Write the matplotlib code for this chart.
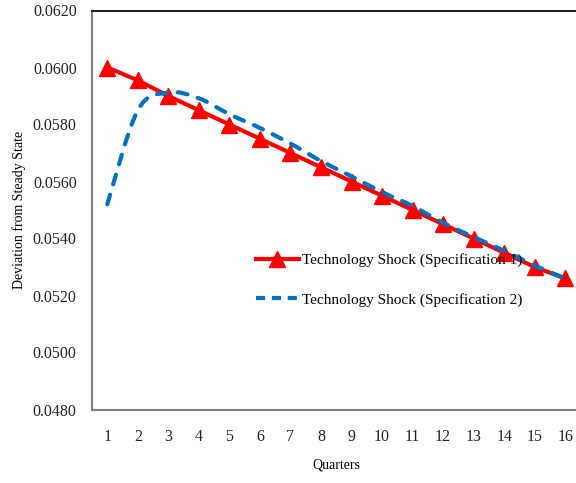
import matplotlib
matplotlib.use("Agg")
import matplotlib.pyplot as plt
from matplotlib.path import Path
from matplotlib.patches import PathPatch
from matplotlib.lines import Line2D
import numpy as np

quarters = list(range(1, 17))
spec1 = [0.0600, 0.05955, 0.0590, 0.0585, 0.0580, 0.0575, 0.0570, 0.0565,
         0.0560, 0.0555, 0.0550, 0.0545, 0.0540, 0.0535, 0.0530, 0.0526]
spec2 = [0.0552, 0.0585, 0.05912, 0.05892, 0.05836, 0.05788, 0.05733, 0.05672,
         0.05618, 0.05563, 0.05514, 0.05455, 0.05405, 0.05357, 0.05305, 0.0526]
yticks = [0.0480, 0.0500, 0.0520, 0.0540, 0.0560, 0.0580, 0.0600, 0.0620]
label1 = "Technology Shock (Specification 1)"
label2 = "Technology Shock (Specification 2)"

plt.rcParams['font.family'] = ['Liberation Serif', 'DejaVu Serif']

W, H = 576, 483
fig = plt.figure(figsize=(W / 100, H / 100), dpi=100)
left, right, top, bottom = 92, 580.5, 10.5, 409.5
ax = fig.add_axes([left / W, 1 - bottom / H, (right - left) / W, (bottom - top) / H])

red = '#FF0000'
blue = '#0070C0'

ax.plot(quarters, spec1, color=red, lw=3.0, marker='^', markersize=11,
        markeredgecolor=red, markerfacecolor=red, zorder=3, label=label1)

# smooth (Excel-style) curve through the spec2 points using Bezier segments
x = np.array(quarters, dtype=float)
y = np.array(spec2, dtype=float)
n = len(x)
verts = [(x[0], y[0])]
codes = [Path.MOVETO]
for i in range(n - 1):
    p0 = np.array([x[max(i - 1, 0)], y[max(i - 1, 0)]])
    p1 = np.array([x[i], y[i]])
    p2 = np.array([x[i + 1], y[i + 1]])
    p3 = np.array([x[min(i + 2, n - 1)], y[min(i + 2, n - 1)]])
    c1 = p1 + (p2 - p0) / 6.0
    c2 = p2 - (p3 - p1) / 6.0
    verts += [tuple(c1), tuple(c2), tuple(p2)]
    codes += [Path.CURVE4] * 3
patch = PathPatch(Path(verts, codes), facecolor='none', edgecolor=blue, lw=3.0,
                  linestyle=(0, (2.4, 2.6)), capstyle='round', zorder=4)
ax.add_patch(patch)

ax.set_xlim(0.5, 16.5)
ax.set_ylim(0.048, 0.062)
ax.set_xticks(quarters)
ax.set_xticklabels([str(q) for q in quarters])
ax.set_yticks(yticks)
ax.set_yticklabels([f"{v:.4f}" for v in yticks])
ax.tick_params(axis='both', length=0, labelsize=11.5, colors='#222222')
ax.tick_params(axis='x', pad=14)
ax.tick_params(axis='y', pad=11)

for s in ['left', 'bottom']:
    ax.spines[s].set_color('#808080')
    ax.spines[s].set_linewidth(1.5)
ax.spines['top'].set_color('#222222')
ax.spines['top'].set_linewidth(1.5)
ax.spines['right'].set_visible(False)

ax.set_xlabel("Quarters", fontsize=10, labelpad=10)
ax.set_ylabel("Deviation from Steady State", fontsize=10, labelpad=5)

h1 = Line2D([], [], color=red, lw=3.0, marker='^', markersize=11)
h2 = Line2D([], [], color=blue, lw=3.0, linestyle=(0, (2.2, 1.6)))
leg = ax.legend([h1, h2], [label1, label2], loc='center left',
                bbox_to_anchor=(248 / W, 1 - 280 / H), bbox_transform=fig.transFigure,
                frameon=False, fontsize=11, handlelength=2.85, handletextpad=0.2,
                labelspacing=1.65, borderpad=0)

fig.savefig("out.png", dpi=100)
